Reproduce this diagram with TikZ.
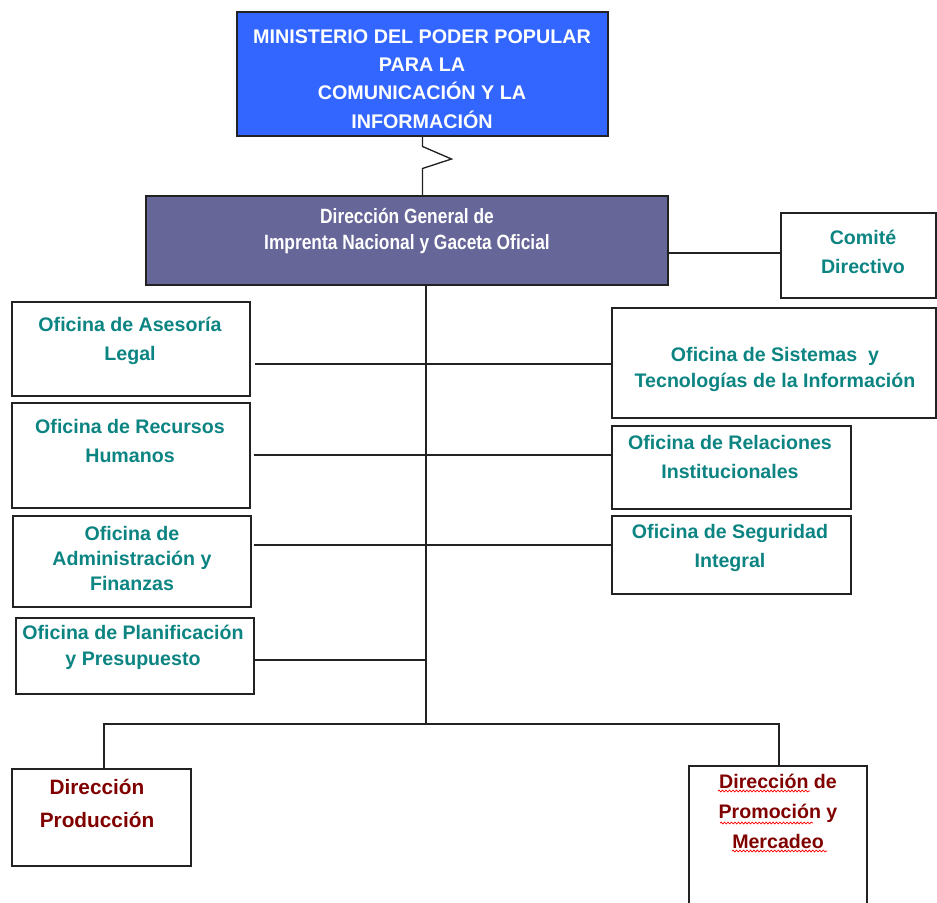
\documentclass[tikz,border=0pt]{standalone}
\usepackage{fontspec}
\setmainfont{Liberation Sans}
\newfontfamily\narrowfont[FakeStretch=0.84]{Liberation Sans}
\usetikzlibrary{calc,decorations.pathmorphing}
\definecolor{minblue}{HTML}{3366FF}
\definecolor{dgfill}{HTML}{666699}
\definecolor{tealtxt}{HTML}{0B8482}
\definecolor{dred}{HTML}{800000}
\definecolor{edge}{HTML}{222222}
\newcommand\obox[6]{\node[#6, minimum width={(#4-#2)*0.75pt}, minimum height={(#5-#3)*0.75pt}] (#1) at ({(#2+#4)/2},{(#3+#5)/2}) {};}
\tikzset{
  orgbox/.style={draw=edge, line width=1.1pt, fill=white, inner sep=0pt, outer sep=0pt},
  minbox/.style={orgbox, fill=minblue},
  dgbox/.style={orgbox, fill=dgfill},
  tlbl/.style={text=tealtxt, align=center, inner sep=0pt, font=\bfseries\fontsize{14.7}{21.75}\selectfont},
  rlbl/.style={text=dred, align=center, inner sep=0pt, font=\bfseries\fontsize{14.9}{23}\selectfont},
  wlbl/.style={text=white, align=center, inner sep=0pt, font=\bfseries\fontsize{14.8}{21.3}\selectfont},
  conn/.style={draw=edge, line width=1pt},
  spellmark/.style={draw=red, line width=0.55pt, decorate, decoration={snake, segment length=2.6pt, amplitude=0.7pt}},
}
\begin{document}
\begin{tikzpicture}[x=0.75pt, y=-0.75pt]
\useasboundingbox (0,0) rectangle (937,902);
% boxes
\obox{min}{237}{12}{608}{136}{minbox}
\obox{dg}{146}{196}{668}{285}{dgbox}
\obox{com}{781}{213}{936}{298}{orgbox}
\obox{ases}{12}{302}{250}{396}{orgbox}
\obox{rec}{12}{403}{250}{508}{orgbox}
\obox{adm}{13}{516}{251}{607}{orgbox}
\obox{pla}{16}{618}{254}{694}{orgbox}
\obox{sis}{612}{308}{936}{418}{orgbox}
\obox{rel}{612}{426}{851}{509}{orgbox}
\obox{seg}{612}{516}{851}{594}{orgbox}
\obox{prod}{12}{769}{191}{866}{orgbox}
\obox{prom}{689}{766}{867}{912}{orgbox}
% texts
\node[wlbl] (tmin) at (422,79) {MINISTERIO\ DEL\ PODER\ POPULAR\\PARA LA\\COMUNICACIÓN Y LA\\INFORMACIÓN};
\node[text=white, align=center, inner sep=0pt, font=\narrowfont\bfseries\fontsize{15.5}{19.5}\selectfont] (tdg) at (407,231) {Dirección General de\\Imprenta Nacional y Gaceta Oficial};
\node[tlbl] (tcom) at (863,252) {Comité\\Directivo};
\node[tlbl] (tases) at (130,341) {Oficina de Asesoría\\Legal};
\node[tlbl] (trec) at (130,441) {Oficina de Recursos\\Humanos};
\node[tlbl, font=\bfseries\fontsize{14.7}{18.75}\selectfont] (tadm) at (132,558) {Oficina de\\Administración y\\Finanzas};
\node[tlbl, font=\bfseries\fontsize{14.7}{19.5}\selectfont] (tpla) at (133,647) {Oficina de Planificación\\y Presupuesto};
\node[tlbl, font=\bfseries\fontsize{14.7}{19.5}\selectfont] (tsis) at (775,369) {Oficina de Sistemas\ \ y\\Tecnologías de la Información};
\node[tlbl] (trel) at (730,457) {Oficina de Relaciones\\Institucionales};
\node[tlbl] (tseg) at (730,548) {Oficina de Seguridad\\Integral};
\node[rlbl, font=\bfseries\fontsize{15.6}{24.75}\selectfont] (tprod) at (97,803) {Dirección\\Producción};
\node[rlbl, font=\bfseries\fontsize{14.7}{22.5}\selectfont] (tprom) at (778,811) {Dirección de\\Promoción y\\Mercadeo};
\draw[spellmark] ($(tprom)+(-60,-20)$) -- ++(92,0);
\draw[spellmark] ($(tprom)+(-58,12)$) -- ++(93,0);
\draw[spellmark] ($(tprom)+(-46,40)$) -- ++(95,0);
% connectors
\draw[conn] (min.south) -- ++(0,10.5) -- ++(29,12.5) -- ++(-29,9.5) -- (min.south |- dg.north);
\coordinate (cj) at (781,253);
\draw[conn] (cj -| dg.east) -- (cj -| com.west);
\coordinate (bar) at (426,724);
\coordinate (j1) at (426,364);
\coordinate (j2) at (426,455);
\coordinate (j3) at (426,545);
\coordinate (j4) at (426,660);
\coordinate (bl) at (104,724);
\coordinate (br) at (779,724);
\draw[conn] (bar |- dg.south) -- (bar);
\draw[conn] ([xshift=3.75pt]ases.east |- j1) -- (j1 -| sis.west);
\draw[conn] ([xshift=3pt]rec.east |- j2) -- (j2 -| rel.west);
\draw[conn] ([xshift=2.25pt]adm.east |- j3) -- (j3 -| seg.west);
\draw[conn] (pla.east |- j4) -- (j4);
\draw[conn] (bl |- prod.north) -- (bl) -- (br) -- (br |- prom.north);
\end{tikzpicture}
\end{document}
